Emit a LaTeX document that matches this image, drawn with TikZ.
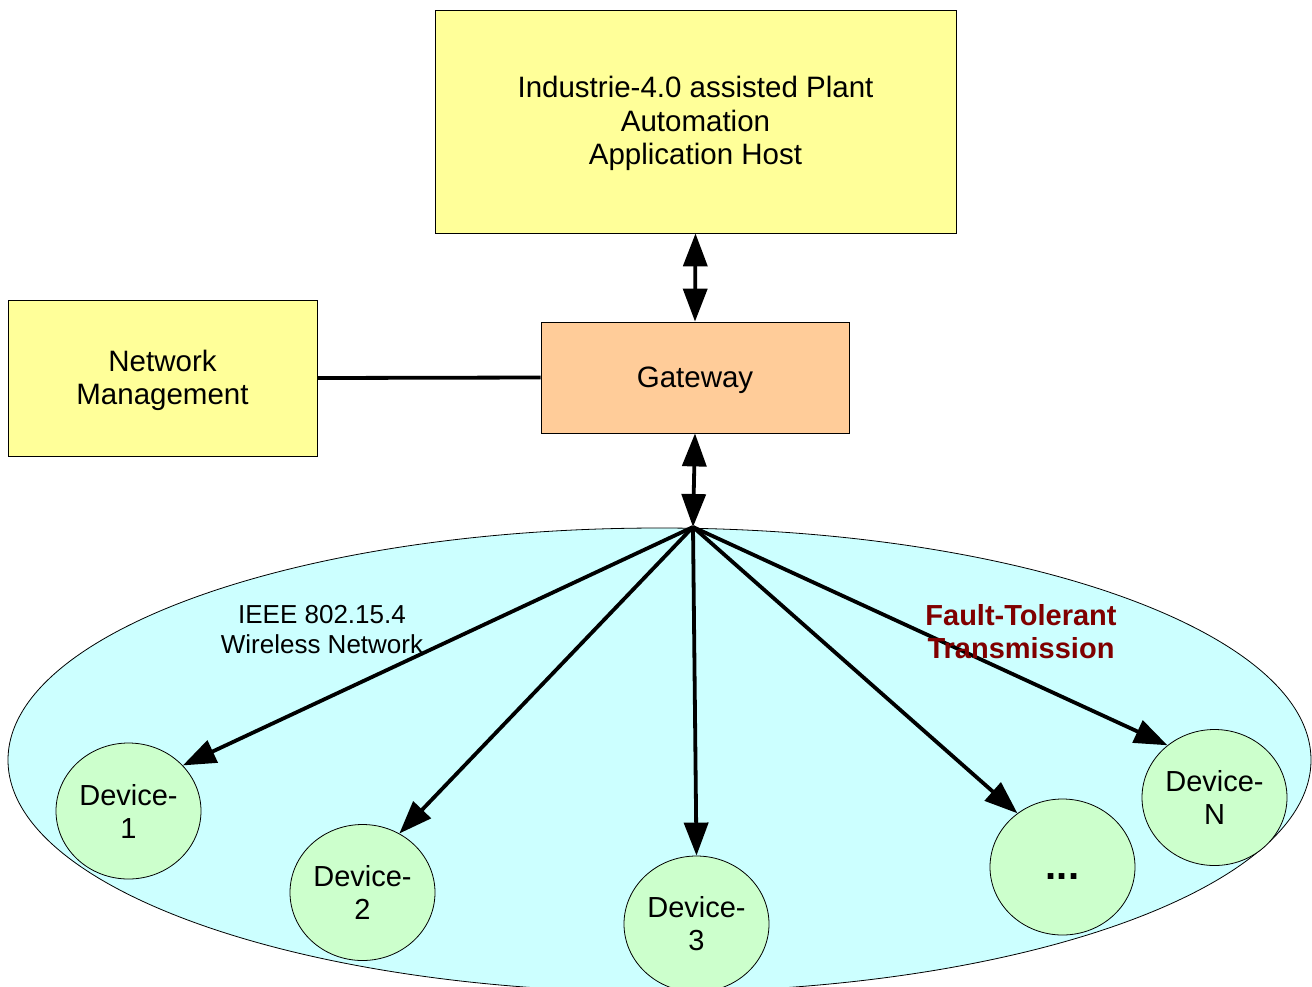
\documentclass[tikz,border=0pt]{standalone}
\usepackage{fontspec}
\setmainfont{Liberation Sans}
\usetikzlibrary{arrows.meta,shapes.geometric}
\definecolor{boxyellow}{HTML}{FFFF99}
\definecolor{gwpeach}{HTML}{FFCC99}
\definecolor{netcyan}{HTML}{CCFFFF}
\definecolor{devgreen}{HTML}{CCFFCC}
\definecolor{darkred}{HTML}{800000}
\tikzset{
  box/.style={draw=black, line width=0.8pt, minimum width=#1, inner sep=0pt},
  boxtext/.style={align=center, inner sep=0pt, font=\fontsize{29.5}{33.5}\selectfont},
  device/.style={ellipse, draw=black, line width=0.8pt, fill=devgreen, minimum width=145pt,
    minimum height=136pt, inner sep=0pt, align=center, font=\fontsize{29}{33}\selectfont},
  link/.style={line width=3.8pt, line cap=butt},
  tip/.style={-{Triangle[length=33pt,width=24pt]}},
  dtip/.style={{Triangle[length=33pt,width=24pt]}-{Triangle[length=33pt,width=24pt]}},
}
\begin{document}
\begin{tikzpicture}[x=1pt,y=-1pt]
\useasboundingbox (0,0) rectangle (1312,986);
\begin{scope}
\clip (0,0) rectangle (1312,986);
\draw[line width=0.8pt, fill=netcyan] (659.5,760) ellipse [x radius=651.5, y radius=232];
\end{scope}
\node[box=521pt, minimum height=223pt, fill=boxyellow] (host) at (695.5,121.5) {};
\node[boxtext] (hosttext) at ([yshift=-2pt]host.center) {Industrie-4.0 assisted Plant\\Automation\\Application Host};
\node[box=309pt, minimum height=156pt, fill=boxyellow] (nm) at (162.5,378) {};
\node[boxtext] (nmtext) at ([yshift=-2.5pt]nm.center) {Network\\Management};
\node[box=308pt, minimum height=111pt, fill=gwpeach] (gw) at (695,377.5) {};
\node[boxtext] (gwtext) at ([yshift=-2.5pt]gw.center) {Gateway};
\coordinate (hub) at (693,527);
\node[device] (d1) at (128.5,811) {Device-\\1};
\node[device] (d2) at (362.5,892.5) {Device-\\2};
\node[device] (d3) at (696.5,924) {Device-\\3};
\node[device, font=\fontsize{40}{40}\selectfont\bfseries] (d4) at (1062.5,867) {\raisebox{-12pt}[0pt][0pt]{...}};
\node[device] (dN) at (1214.5,797.5) {Device-\\N};
\draw[link] (nm.east) -- (gw.west);
\draw[link, dtip] (host.south) -- (gw.north);
\draw[link, dtip] (gw.south) -- (hub);
\draw[link, tip] (hub) -- (d1.40);
\draw[link, tip] (hub) -- (d2.58);
\draw[link, tip] (hub) -- (d3.90);
\draw[link, tip] (hub) -- (d4.130);
\draw[link, tip] (hub) -- (dN.132);
\node[align=center, font=\fontsize{26}{30}\selectfont] (ieee) at (322,630) {IEEE 802.15.4\\Wireless Network};
\node[align=center, text=darkred, font=\fontsize{29}{33}\selectfont\bfseries] (ft) at (1021,632) {Fault-Tolerant\\Transmission};
\end{tikzpicture}
\end{document}
